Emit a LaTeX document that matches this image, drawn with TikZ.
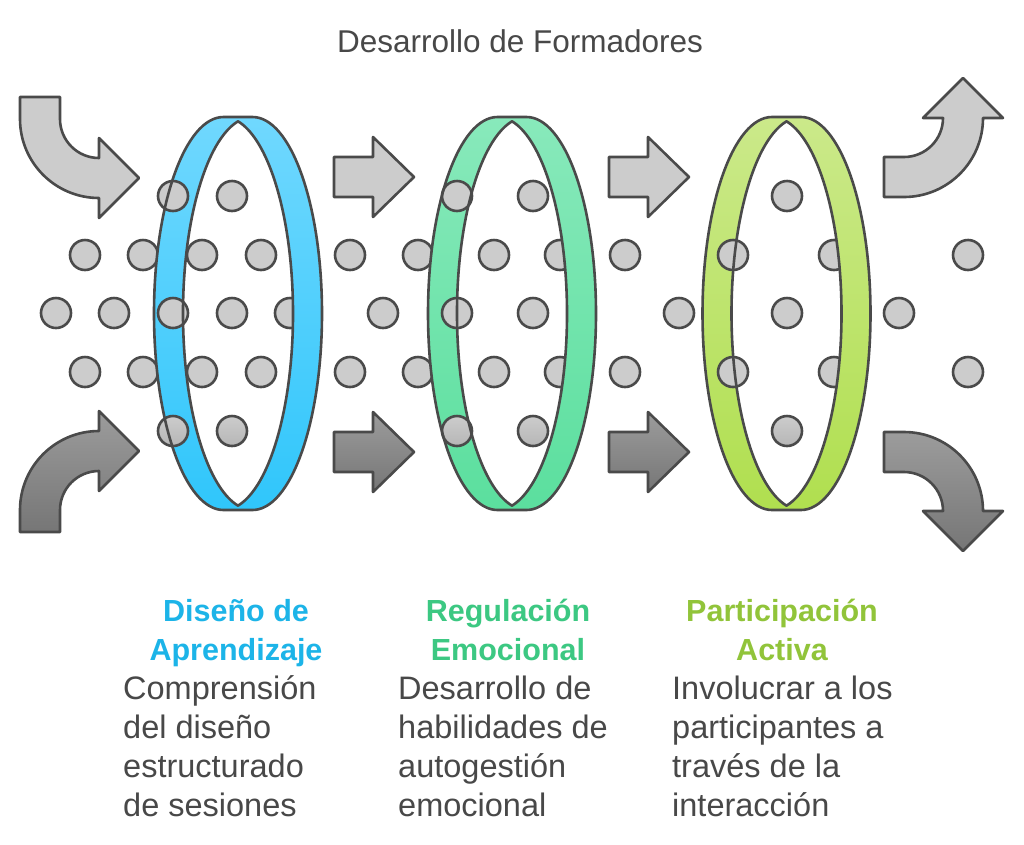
\documentclass[tikz,border=0pt]{standalone}
\usepackage{fontspec}
\setmainfont{Liberation Sans}
\definecolor{ink}{HTML}{4A4A4A}
\definecolor{txt}{HTML}{484848}
\definecolor{dotfill}{HTML}{CCCCCC}
\definecolor{dotlow}{HTML}{B6B6B6}
\definecolor{arrlight}{HTML}{CCCCCC}
\definecolor{arrdarkA}{HTML}{9C9C9C}
\definecolor{arrdarkB}{HTML}{767676}
\definecolor{blueA}{HTML}{70D8FE}
\definecolor{blueB}{HTML}{30C6FB}
\definecolor{greenA}{HTML}{88E9BB}
\definecolor{greenB}{HTML}{5BDF9E}
\definecolor{limeA}{HTML}{CBE98A}
\definecolor{limeB}{HTML}{B0DF4F}
\definecolor{hblue}{HTML}{1CB4E8}
\definecolor{hgreen}{HTML}{3CC882}
\definecolor{hlime}{HTML}{91C43A}
\newcommand\ringfill[3]{%
  \fill[top color=#2, bottom color=#3, even odd rule]
    (#1-14.5,117) arc[start angle=-90, end angle=-270, x radius=69.5, y radius=196.5]
    -- (#1+14.5,510) arc[start angle=90, end angle=-90, x radius=69.5, y radius=196.5] -- cycle
    (#1,121.32) arc[start angle=-102.043, end angle=-257.957, x radius=69.5, y radius=196.5]
    arc[start angle=77.957, end angle=-77.957, x radius=69.5, y radius=196.5] -- cycle;}
\newcommand\ringline[1]{%
  \draw[outl]
    (#1-14.5,117) arc[start angle=-90, end angle=-270, x radius=69.5, y radius=196.5]
    -- (#1+14.5,510) arc[start angle=90, end angle=-90, x radius=69.5, y radius=196.5] -- cycle
    (#1,121.32) arc[start angle=-102.043, end angle=-257.957, x radius=69.5, y radius=196.5]
    arc[start angle=77.957, end angle=-77.957, x radius=69.5, y radius=196.5] -- cycle;}
\begin{document}
\begin{tikzpicture}[x=1pt,y=-1pt,
  outl/.style={draw=ink, line width=2.6pt, line join=round},
  dotst/.style={draw=ink, line width=2.6pt, fill=dotfill},
  dotlo/.style={draw=ink, line width=2.6pt, top color=dotfill, bottom color=dotlow},
  arrup/.style={outl, fill=arrlight},
  arrdn/.style={outl, top color=arrdarkA, bottom color=arrdarkB},
  head/.style={font=\fontsize{30.5}{39}\selectfont\bfseries, inner sep=0pt, anchor=base},
  body/.style={font=\fontsize{32.5}{39}\selectfont, text=txt, inner sep=0pt, anchor=base west}]
\useasboundingbox (0,0) rectangle (1024,844);
\fill[white] (0,0) rectangle (1024,844);

% title
\node[font=\fontsize{31.5}{38}\selectfont, text=txt, inner sep=0pt, anchor=base] (title) at (520,52) {Desarrollo de Formadores};

% arrows: left curved
\draw[arrup] (20,97) -- (60,97) -- (60,119) arc[start angle=180, end angle=90, radius=39]
  -- (99,138) -- (139,178) -- (99,218) -- (99,198) arc[start angle=90, end angle=180, radius=79] -- cycle;
\draw[arrdn] (20,532) -- (60,532) -- (60,510) arc[start angle=180, end angle=270, radius=39]
  -- (99,491) -- (139,451) -- (99,411) -- (99,431) arc[start angle=270, end angle=180, radius=79] -- cycle;
% straight arrows
\foreach \s in {0,275}{
  \draw[arrup] (334+\s,157) -- (373+\s,157) -- (373+\s,137) -- (414+\s,177) -- (373+\s,217) -- (373+\s,197) -- (334+\s,197) -- cycle;
  \draw[arrdn] (334+\s,432) -- (373+\s,432) -- (373+\s,412) -- (414+\s,452) -- (373+\s,492) -- (373+\s,472) -- (334+\s,472) -- cycle;
}
% right curved
\draw[arrup] (884,157) -- (904,157) arc[start angle=90, end angle=0, radius=39]
  -- (923,118) -- (963,78) -- (1003,118) -- (983,118) arc[start angle=0, end angle=90, radius=79] -- (884,197) -- cycle;
\draw[arrdn] (884,472) -- (904,472) arc[start angle=-90, end angle=0, radius=39]
  -- (923,511) -- (963,551) -- (1003,511) -- (983,511) arc[start angle=0, end angle=-90, radius=79] -- (884,432) -- cycle;

% dots behind the rings
\foreach \x/\y in {143/255,143/372,290/313,418/255,418/372,560/255,560/372,834/255,834/372}
  \draw[dotst] (\x,\y) circle[radius=15];

% ring fills
\ringfill{238}{blueA}{blueB}
\ringfill{512}{greenA}{greenB}
\ringfill{786.5}{limeA}{limeB}

% dots in front
\foreach \x in {173,232,457,533,787} \draw[dotst] (\x,196) circle[radius=15];
\foreach \x in {85,202,261,350,494,625,733,968} {
  \draw[dotst] (\x,255) circle[radius=15];
  \draw[dotst] (\x,372) circle[radius=15];}
\foreach \x in {56,114,173,232,383,457,533,679,787,899} \draw[dotst] (\x,313) circle[radius=15];
\foreach \x in {173,232,457,533,787} \draw[dotlo] (\x,431) circle[radius=15];

% ring outlines
\ringline{238}
\ringline{512}
\ringline{786.5}

% headings
\node[head, text=hblue] (h1a) at (236,621) {Diseño de};
\node[head, text=hblue] (h1b) at (236,660) {Aprendizaje};
\node[head, text=hgreen] (h2a) at (508,621) {Regulación};
\node[head, text=hgreen] (h2b) at (508,660) {Emocional};
\node[head, text=hlime] (h3a) at (782,621) {Participación};
\node[head, text=hlime] (h3b) at (782,660) {Activa};

% body texts
\node[body] (b1a) at (123,699) {Comprensión};
\node[body] (b1b) at (123,738) {del diseño};
\node[body] (b1c) at (123,777) {estructurado};
\node[body] (b1d) at (123,816) {de sesiones};
\node[body] (b2a) at (398,699) {Desarrollo de};
\node[body] (b2b) at (398,738) {habilidades de};
\node[body] (b2c) at (398,777) {autogestión};
\node[body] (b2d) at (398,816) {emocional};
\node[body] (b3a) at (672,699) {Involucrar a los};
\node[body] (b3b) at (672,738) {participantes a};
\node[body] (b3c) at (672,777) {través de la};
\node[body] (b3d) at (672,816) {interacción};
\end{tikzpicture}
\end{document}
